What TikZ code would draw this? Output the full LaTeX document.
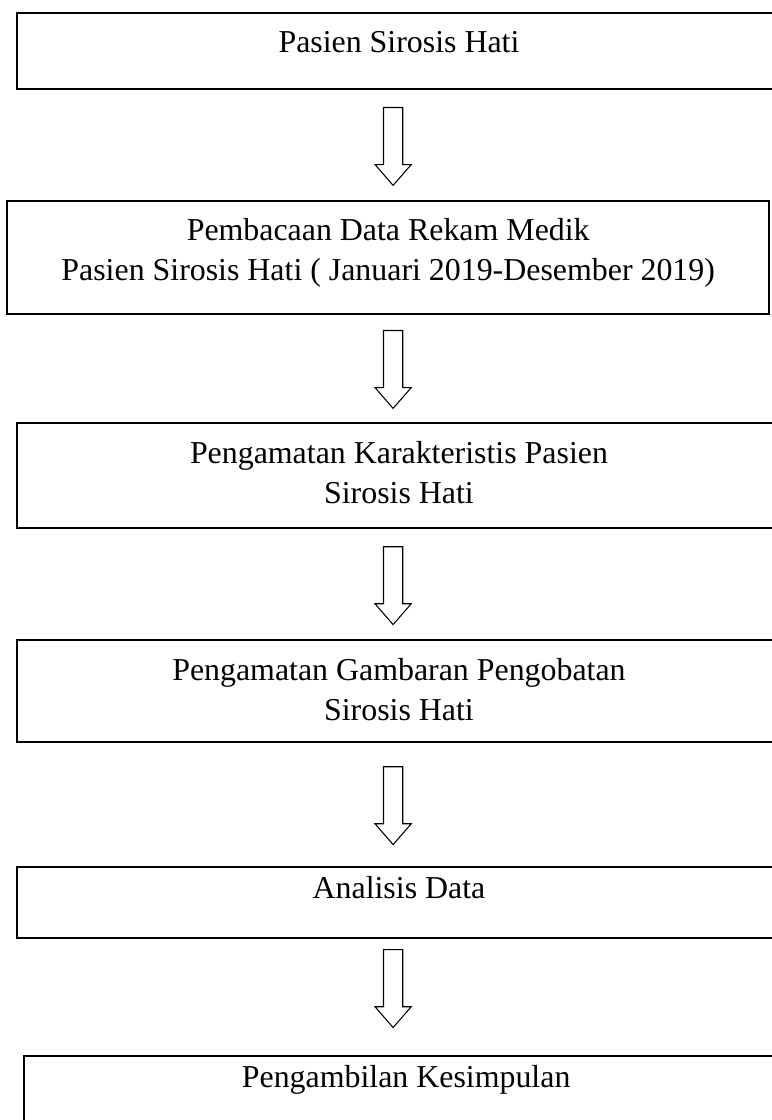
\documentclass[tikz,border=0pt]{standalone}
\usepackage{fontspec}
\setmainfont{Liberation Serif}
\usetikzlibrary{shapes.arrows}

\begin{document}
\begin{tikzpicture}[
  font=\fontsize{24pt}{30pt}\selectfont,
  box/.style={draw, line width=1.6pt, anchor=north west, align=center,
              inner sep=0pt, outer sep=0pt, minimum width=202.1mm},
  blk/.style={draw, single arrow, line width=0.8pt, shape border rotate=270,
              anchor=tail, minimum height=20.6mm, inner sep=2.4mm,
              single arrow head extend=2.25mm, single arrow tip angle=82}
]
\useasboundingbox (0,0) rectangle (204mm,-296.3mm);
% steps
\node[box, text height=10.4mm, text depth=9.7mm] (pasien) at (4.5mm,-3.4mm)
  {Pasien Sirosis Hati};
\node[box, minimum width=201.6mm, text height=20.9mm, text depth=9.0mm] (rekam) at (1.9mm,-53.2mm)
  {Pembacaan Data Rekam Medik\\Pasien Sirosis Hati ( Januari 2019-Desember 2019)};
\node[box, text height=21.2mm, text depth=6.6mm] (karak) at (4.5mm,-111.9mm)
  {Pengamatan Karakteristis Pasien\\Sirosis Hati};
\node[box, text height=21.2mm, text depth=5.8mm] (obat) at (4.5mm,-169.3mm)
  {Pengamatan Gambaran Pengobatan\\Sirosis Hati};
\node[box, text height=8.2mm, text depth=10.6mm] (analisis) at (4.5mm,-229.4mm)
  {Analisis Data};
\node[box, text height=8.2mm, text depth=13.8mm] (simpul) at (6.4mm,-279.4mm)
  {Pengambilan Kesimpulan};
% block arrows
\node[blk] (a1) at (104mm,-28.3mm) {};
\node[blk] (a2) at (104mm,-87.3mm) {};
\node[blk] (a3) at (104mm,-144.5mm) {};
\node[blk] (a4) at (104mm,-202.7mm) {};
\node[blk] (a5) at (104mm,-251.1mm) {};
\end{tikzpicture}
\end{document}
